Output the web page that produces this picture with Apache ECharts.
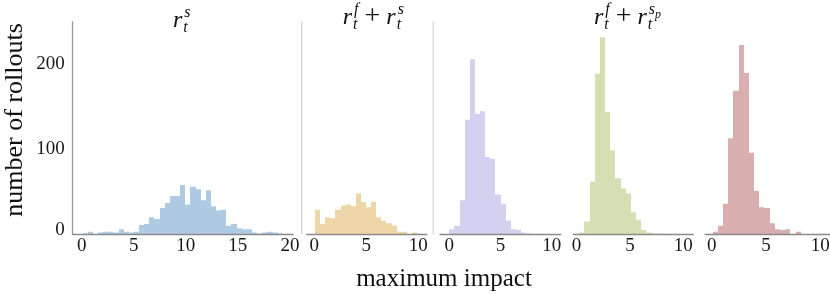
<!DOCTYPE html>
<html><head><meta charset="utf-8">
<script src="https://cdn.jsdelivr.net/npm/echarts@6/dist/echarts.min.js"></script>
<style>html,body{margin:0;padding:0;background:#fff}#c{width:830px;height:294px}</style>
</head><body><div id="c"></div>
<script>
// ---- data (histogram counts per panel, bin start & width in "maximum impact" units) ----
const p1Counts = [1,3,0,2,3,3,2,6,3,2,3,11,12,20,18,31,37,45,45,58,35,56,53,40,52,33,28,29,10,12,7,6,6,2,1,2,3,2,1];
const p1BinStart = 0.09, p1BinWidth = 0.493;
const p2Counts = [29,12,20,19,29,34,35,33,48,38,32,38,20,16,13,10,3,3,0,2,1];
const p2BinStart = 0.07, p2BinWidth = 0.49;
const p3Counts = [6,10,40,135,206,142,145,91,89,47,36,16,6,5,2,1];
const p3BinStart = 0.0, p3BinWidth = 0.5;
const p4Counts = [2,15,62,189,232,144,99,66,54,48,26,17,5,2,1,1];
const p4BinStart = 0.24, p4BinWidth = 0.485;
const p5Counts = [3,10,36,113,169,223,190,96,51,32,31,13,6,5,6,0,3];
const p5BinStart = 0.09, p5BinWidth = 0.477;

const yTicks = [0, 100, 200];
const xTicksWide = [0, 5, 10, 15, 20];
const xTicksNarrow = [0, 5, 10];
const yMax = 250;
const xRanges = [[-0.86, 20.3], [-0.73, 10.8], [-0.91, 10.88], [-0.31, 10.93], [-0.62, 10.9]];

const yAxisTitle = 'number of rollouts';
const xAxisTitle = 'maximum impact';

// ---- layout & style ----
const FAM = '"Liberation Serif", "Times New Roman", serif';
const colors = ['#afcbe3', '#efd6a8', '#d3d1ef', '#d4e0b4', '#d8afae'];
const gridLefts = [72.7, 306.7, 440, 573.3, 705];
const gridWidths = [220.3, 120, 120.7, 120, 125];
const GRID_TOP = 22, GRID_H = 212.3;

const sets = [
  [p1Counts, p1BinStart, p1BinWidth, xTicksWide],
  [p2Counts, p2BinStart, p2BinWidth, xTicksNarrow],
  [p3Counts, p3BinStart, p3BinWidth, xTicksNarrow],
  [p4Counts, p4BinStart, p4BinWidth, xTicksNarrow],
  [p5Counts, p5BinStart, p5BinWidth, xTicksNarrow]
];

function binData(counts, start, w) {
  return counts.map((c, i) => [start + i * w, start + (i + 1) * w, c]);
}

function renderBin(params, api) {
  const a = api.coord([api.value(0), api.value(2)]);
  const b = api.coord([api.value(1), 0]);
  const x0 = Math.round(a[0]), x1 = Math.round(b[0]);
  return {
    type: 'rect',
    shape: { x: x0, y: a[1], width: x1 - x0, height: b[1] - a[1] },
    style: { fill: api.visual('color') }
  };
}

// ---- math-like titles ----
const mctx = document.createElement('canvas').getContext('2d');
function tw(style, size, s) { mctx.font = style + ' ' + size + 'px ' + FAM; return mctx.measureText(s).width; }
const MAIN = 24, SCR = 16, SSCR = 12, OP = 28;
function txt(x, base, s, size, style) {
  return { type: 'text', x: x, y: base - 0.32 * size, silent: true,
    style: { text: s, fontFamily: FAM, fontSize: size, fontStyle: style === 'italic' ? 'italic' : 'normal',
      fill: '#111', align: 'left', verticalAlign: 'middle' } };
}
// tokens: {m:'r'} main italic; {op:'+'}; {sub:'t', sup:'s', supSub:'p'}
function mathTitle(cx, base, tokens) {
  const els = []; let x = 0;
  tokens.forEach(t => {
    if (t.m) { els.push(txt(x, base, t.m, MAIN, 'italic')); x += tw('italic', MAIN, t.m) + 1; }
    else if (t.op) { x += 6; els.push(txt(x, base + 1, t.op, OP, 'normal')); x += tw('normal', OP, t.op) + 6; }
    else {
      let wsub = 0, wsup = 0;
      if (t.sub) { els.push(txt(x, base + 5, t.sub, SCR, 'italic')); wsub = tw('italic', SCR, t.sub); }
      if (t.sup) {
        els.push(txt(x + 1, base - 10, t.sup, SCR, 'italic')); wsup = tw('italic', SCR, t.sup) + 1;
        if (t.supSub) { els.push(txt(x + wsup, base - 6, t.supSub, SSCR, 'italic')); wsup += tw('italic', SSCR, t.supSub); }
      }
      x += Math.max(wsub, wsup);
    }
  });
  const shift = cx - x / 2;
  els.forEach(e => { e.x += shift; });
  return { type: 'group', children: els };
}

const chart = echarts.init(document.getElementById('c'), null, { renderer: 'canvas' });

const option = {
  animation: false,
  backgroundColor: '#fff',
  grid: sets.map((s, i) => ({ left: gridLefts[i], top: GRID_TOP, width: gridWidths[i], height: GRID_H, outerBoundsMode: 'none', containLabel: false })),
  xAxis: sets.map((s, i) => ({
    type: 'value', gridIndex: i, min: xRanges[i][0], max: xRanges[i][1], z: 5,
    axisLine: { show: true, onZero: false, lineStyle: { color: '#8a8a8a', width: 1.3 } },
    axisTick: { show: false }, splitLine: { show: false },
    axisLabel: { customValues: s[3], margin: 2, fontFamily: FAM, fontSize: 19, color: '#1a1a1a',
      showMinLabel: true, showMaxLabel: true }
  })),
  yAxis: sets.map((s, i) => ({
    type: 'value', gridIndex: i, min: 0, max: yMax, show: i === 0, z: 5,
    axisLine: { show: true, onZero: false, lineStyle: { color: '#999', width: 1.3 } },
    axisTick: { show: false }, splitLine: { show: false },
    axisLabel: { customValues: yTicks, margin: 8, fontFamily: FAM, fontSize: 19, color: '#1a1a1a',
      formatter: v => (v === 0 ? '{z|0}' : String(v)),
      rich: { z: { fontFamily: FAM, fontSize: 19, color: '#1a1a1a', padding: [0, 0, 9, 0] } } }
  })),
  series: sets.map((s, i) => ({
    type: 'custom', xAxisIndex: i, yAxisIndex: i, clip: true, silent: true, z: 2,
    itemStyle: { color: colors[i] },
    encode: { x: [0, 1], y: 2 },
    data: binData(s[0], s[1], s[2]),
    renderItem: renderBin
  })),
  graphic: [
    { type: 'line', silent: true, shape: { x1: 301.7, y1: 21.5, x2: 301.7, y2: 234.3 }, style: { stroke: '#d9d9d9', lineWidth: 1.5 } },
    { type: 'line', silent: true, shape: { x1: 433.3, y1: 21.5, x2: 433.3, y2: 234.3 }, style: { stroke: '#d9d9d9', lineWidth: 1.5 } },
    mathTitle(181.7, 28, [{ m: 'r' }, { sub: 't', sup: 's' }]),
    mathTitle(373.3, 25, [{ m: 'r' }, { sub: 't', sup: 'f' }, { op: '+' }, { m: 'r' }, { sub: 't', sup: 's' }]),
    mathTitle(627.5, 25, [{ m: 'r' }, { sub: 't', sup: 'f' }, { op: '+' }, { m: 'r' }, { sub: 't', sup: 's', supSub: 'p' }]),
    { type: 'text', x: 444, y: 279, silent: true,
      style: { text: xAxisTitle, fontFamily: FAM, fontSize: 25, fill: '#111', align: 'center', verticalAlign: 'middle' } },
    { type: 'text', x: 15.5, y: 120, rotation: Math.PI / 2, silent: true,
      style: { text: yAxisTitle, fontFamily: FAM, fontSize: 26, fill: '#111', align: 'center', verticalAlign: 'middle' } }
  ]
};
chart.setOption(option);
</script>
</body></html>
